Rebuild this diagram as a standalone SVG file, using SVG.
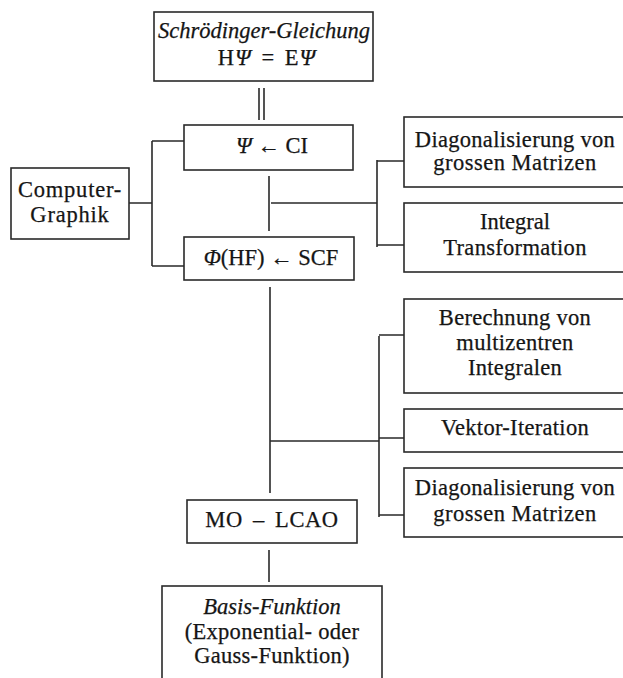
<svg xmlns="http://www.w3.org/2000/svg" width="623" height="678" viewBox="0 0 623 678">
<style>
.box{fill:none;stroke:#2a2a2a;stroke-width:1.6}
.ln{fill:none;stroke:#2a2a2a;stroke-width:1.6}
text{font-family:"Liberation Serif","Times New Roman",serif;font-size:22.5px;fill:#151515;text-anchor:middle;stroke:#151515;stroke-width:0.25}
.it{font-style:italic}
</style>
<rect width="623" height="678" fill="#ffffff"/>
<g id="connectors">
<path class="ln" d="M259,88V120M264,88V120"/>
<path class="ln" d="M269,176V231M271,203H377"/>
<path class="ln" d="M377,160V247M377,161H404M377,245H404"/>
<path class="ln" d="M129,203H152M152,141V266M152,141H184M152,266H184"/>
<path class="ln" d="M270,287V493M270,441H379"/>
<path class="ln" d="M379,336V517M379,335H404M379,438H404M379,515H404"/>
<path class="ln" d="M269,550V582"/>
</g>
<g id="schroedinger">
<rect class="box" x="154" y="12" width="219" height="69"/>
<text x="264" y="38" class="it">Schrödinger-Gleichung</text>
<text x="267" y="65" letter-spacing="1">H<tspan class="it">Ψ</tspan> <tspan dx="3">=</tspan> <tspan dx="3">E</tspan><tspan class="it">Ψ</tspan></text>
</g>
<g id="ci">
<rect class="box" x="184" y="125" width="169" height="45"/>
<text x="272" y="153"><tspan class="it">Ψ</tspan> ← CI</text>
</g>
<g id="scf">
<rect class="box" x="184" y="237" width="170" height="43"/>
<text x="271" y="265"><tspan class="it">Φ</tspan>(HF) ← SCF</text>
</g>
<g id="computergraphik">
<rect class="box" x="11" y="168" width="118" height="71"/>
<text x="70" y="197" letter-spacing="0.8">Computer-</text>
<text x="70" y="222" letter-spacing="0.8">Graphik</text>
</g>
<g id="diag1">
<rect class="box" x="404" y="117" width="230" height="70"/>
<text x="515" y="147" letter-spacing="0.3">Diagonalisierung von</text>
<text x="515" y="170" letter-spacing="0.5">grossen Matrizen</text>
</g>
<g id="integral">
<rect class="box" x="404" y="203" width="230" height="69"/>
<text x="515" y="229">Integral</text>
<text x="515" y="255" letter-spacing="0.3">Transformation</text>
</g>
<g id="berechnung">
<rect class="box" x="404" y="299" width="230" height="94"/>
<text x="515" y="325" letter-spacing="0.3">Berechnung von</text>
<text x="515" y="350" letter-spacing="0.3">multizentren</text>
<text x="515" y="375" letter-spacing="0.3">Integralen</text>
</g>
<g id="vektor">
<rect class="box" x="404" y="409" width="230" height="43"/>
<text x="515" y="435" letter-spacing="0.3">Vektor-Iteration</text>
</g>
<g id="diag2">
<rect class="box" x="404" y="468" width="230" height="69"/>
<text x="515" y="495" letter-spacing="0.3">Diagonalisierung von</text>
<text x="515" y="521" letter-spacing="0.5">grossen Matrizen</text>
</g>
<g id="molcao">
<rect class="box" x="187" y="500" width="170" height="43"/>
<text x="272" y="527" letter-spacing="0.6">MO <tspan dx="4">–</tspan> <tspan dx="4">LCAO</tspan></text>
</g>
<g id="basis">
<rect class="box" x="162" y="586" width="220" height="100"/>
<text x="272" y="614" class="it">Basis-Funktion</text>
<text x="272" y="639" letter-spacing="0.3">(Exponential- oder</text>
<text x="272" y="663" letter-spacing="0.3">Gauss-Funktion)</text>
</g>
</svg>
